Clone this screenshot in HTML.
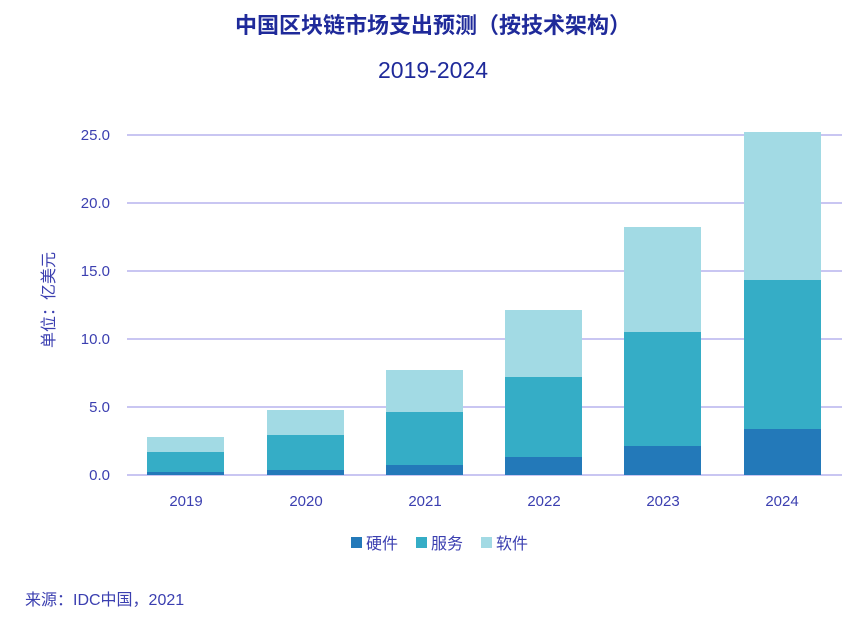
<!DOCTYPE html>
<html><head><meta charset="utf-8"><style>
body{margin:0;background:#fff;}
svg text{font-family:"Liberation Sans","Noto Sans CJK SC",sans-serif;fill:#3b3fb0;}
</style></head><body>
<svg width="866" height="616" xmlns="http://www.w3.org/2000/svg">
<text x="433" y="33" text-anchor="middle" font-size="22" font-weight="bold" style="fill:#1f2a9a">中国区块链市场支出预测（按技术架构）</text>
<text x="433" y="78" text-anchor="middle" font-size="23" style="fill:#1f2a9a">2019-2024</text>
<g stroke="#c9c6f2" stroke-width="2">
<line x1="127" y1="135" x2="842" y2="135"/>
<line x1="127" y1="203" x2="842" y2="203"/>
<line x1="127" y1="271" x2="842" y2="271"/>
<line x1="127" y1="339" x2="842" y2="339"/>
<line x1="127" y1="407" x2="842" y2="407"/>
<line x1="127" y1="475" x2="842" y2="475"/>
</g>
<g font-size="15" text-anchor="end">
<text x="110" y="140">25.0</text><text x="110" y="208">20.0</text>
<text x="110" y="276">15.0</text><text x="110" y="344">10.0</text>
<text x="110" y="412">5.0</text><text x="110" y="480">0.0</text>
</g>
<text transform="translate(54,300) rotate(-90)" text-anchor="middle" font-size="16">单位：亿美元</text>
<g>
<rect x="147" y="437" width="77" height="15" fill="#a2dae4"/><rect x="147" y="452" width="77" height="20" fill="#35adc6"/><rect x="147" y="472" width="77" height="3" fill="#2379b9"/>
<rect x="267" y="410" width="77" height="25" fill="#a2dae4"/><rect x="267" y="435" width="77" height="35" fill="#35adc6"/><rect x="267" y="470" width="77" height="5" fill="#2379b9"/>
<rect x="386" y="370" width="77" height="42" fill="#a2dae4"/><rect x="386" y="412" width="77" height="53" fill="#35adc6"/><rect x="386" y="465" width="77" height="10" fill="#2379b9"/>
<rect x="505" y="310" width="77" height="67" fill="#a2dae4"/><rect x="505" y="377" width="77" height="80" fill="#35adc6"/><rect x="505" y="457" width="77" height="18" fill="#2379b9"/>
<rect x="624" y="227" width="77" height="105" fill="#a2dae4"/><rect x="624" y="332" width="77" height="114" fill="#35adc6"/><rect x="624" y="446" width="77" height="29" fill="#2379b9"/>
<rect x="744" y="132" width="77" height="148" fill="#a2dae4"/><rect x="744" y="280" width="77" height="149" fill="#35adc6"/><rect x="744" y="429" width="77" height="46" fill="#2379b9"/>
</g>
<g font-size="15" text-anchor="middle">
<text x="186" y="506">2019</text><text x="306" y="506">2020</text><text x="425" y="506">2021</text>
<text x="544" y="506">2022</text><text x="663" y="506">2023</text><text x="782" y="506">2024</text>
</g>
<g font-size="16">
<rect x="351" y="537" width="11" height="11" fill="#2379b9"/><text x="366" y="549">硬件</text>
<rect x="416" y="537" width="11" height="11" fill="#35adc6"/><text x="431" y="549">服务</text>
<rect x="481" y="537" width="11" height="11" fill="#a2dae4"/><text x="496" y="549">软件</text>
</g>
<text x="25" y="605" font-size="16">来源：IDC中国，2021</text>
</svg>
</body></html>
